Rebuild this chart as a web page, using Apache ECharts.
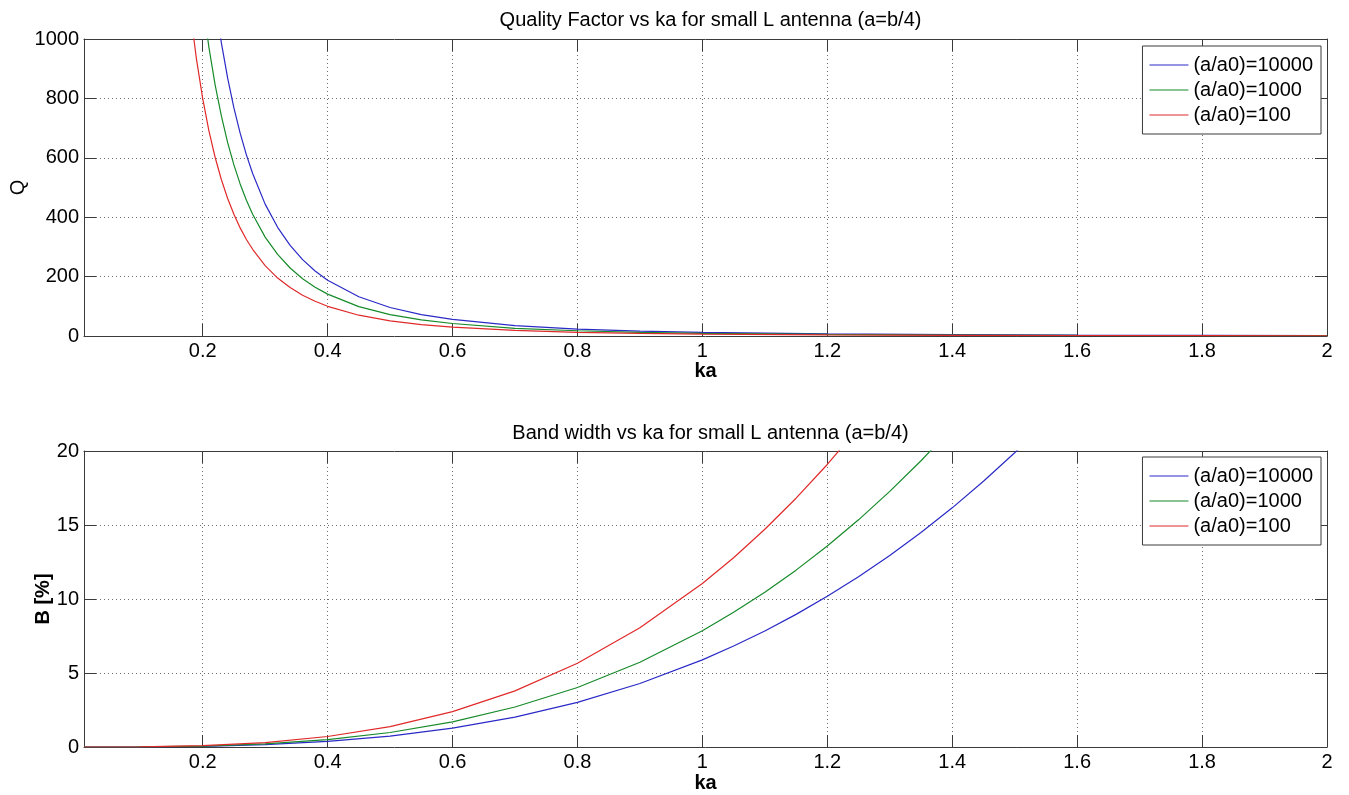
<!DOCTYPE html>
<html>
<head>
<meta charset="utf-8">
<script src="https://cdn.jsdelivr.net/npm/echarts@6/dist/echarts.min.js"></script>
<style>
html,body{margin:0;padding:0;background:#fff;}
#chart{width:1349px;height:795px;}
</style>
</head>
<body>
<div id="chart"></div>
<script>
// ---- data ----
const seriesNames = ['(a/a0)=10000', '(a/a0)=1000', '(a/a0)=100'];

// Top panel: Quality factor Q vs ka
const kaTop = [0.15,0.16,0.17,0.18,0.19,0.2,0.21,0.22,0.23,0.24,0.25,0.26,0.27,0.28,0.3,0.32,0.34,0.36,0.38,0.4,0.45,0.5,0.55,0.6,0.7,0.8,0.9,1.0,1.2,1.4,1.6,1.8,2.0];
const qBlue  = [3556,2930,2442,2058,1750,1500,1296,1127,986,868,768,683,610,547,444,366,305,257,219,188,132,96,72,56,35,23.4,16.5,12,6.9,4.4,2.9,2.1,1.5];
const qGreen = [2667,2197,1832,1543,1312,1125,972,845,740,651,576,512,457,410,333,275,229,193,164,141,99,72,54,42,26,17.6,12.3,9,5.2,3.3,2.2,1.5,1.1];
const qRed   = [1896,1563,1303,1097,933,800,691,601,526,463,410,364,325,292,237,195,163,137,117,100,70,51,38,30,18.7,12.5,8.8,6.4,3.7,2.3,1.6,1.1,0.8];

// Bottom panel: bandwidth B [%] vs ka
const kaBottom = [0.01,0.1,0.2,0.3,0.4,0.5,0.6,0.7,0.8,0.9,1.0,1.05,1.1,1.15,1.2,1.25,1.3,1.35,1.4,1.45,1.5,1.55];
const bBlue  = [0,0.006,0.047,0.16,0.38,0.74,1.27,2.02,3.02,4.29,5.89,6.82,7.84,8.96,10.18,11.5,12.94,14.49,16.16,17.96,19.88,21.93];
const bGreen = [0,0.008,0.063,0.21,0.50,0.98,1.70,2.70,4.02,5.73,7.86,9.10,10.46,11.95,13.58,15.35,17.27,19.34,21.57,24.0,26.5,29.3];
const bRed   = [0,0.011,0.088,0.30,0.71,1.38,2.39,3.79,5.66,8.06,11.05,12.79,14.71,16.81,19.09,21.58,24.3,27.2,30.3,33.7,37.3,41.2];

// ticks
const xTicks = [0.2,0.4,0.6,0.8,1.0,1.2,1.4,1.6,1.8,2.0];
const xTickLabels = ['0.2','0.4','0.6','0.8','1','1.2','1.4','1.6','1.8','2'];

const colors = ['#2a2ac6', '#178a2a', '#e02a2a'];
const FONT = "'Liberation Sans', Arial, sans-serif";

function zip(xs, ys){ return xs.map((x,i)=>[x, ys[i]]); }

const axisLineStyle = {color:'#3a3a3a', width:1};
const gridLine = {show:true, lineStyle:{color:'#707070', type:[1,3], width:1}};

function xBottom(gi){
  return {
    type:'value', gridIndex:gi, position:'bottom', min:0.01, max:2,
    name:'ka', nameLocation:'middle', nameGap: gi===0 ? 25 : 26, nameMoveOverlap:false,
    nameTextStyle:{fontFamily:FONT, fontSize:20, fontWeight:'bold', color:'#000'},
    axisLine:{show:true, onZero:false, lineStyle:axisLineStyle},
    axisTick:{show:true, inside:true, length:12, lineStyle:axisLineStyle, customValues:xTicks},
    axisLabel:{show:true, customValues:xTicks, margin:5, fontFamily:FONT, fontSize:20, color:'#000',
      formatter:(v)=>{const i=xTicks.findIndex(t=>Math.abs(t-v)<1e-9); return i>=0?xTickLabels[i]:'';}},
    splitLine:gridLine
  };
}
function xTop(gi){
  return {
    type:'value', gridIndex:gi, position:'top', min:0.01, max:2,
    axisLine:{show:true, onZero:false, lineStyle:axisLineStyle},
    axisTick:{show:true, inside:true, length:12, lineStyle:axisLineStyle, customValues:xTicks},
    axisLabel:{show:false, customValues:xTicks},
    splitLine:{show:false}
  };
}
function yLeft(gi, max, interval, name, gap){
  return {
    type:'value', gridIndex:gi, position:'left', min:0, max:max, interval:interval,
    name:name, nameLocation:'middle', nameGap:gap, nameMoveOverlap:false,
    nameTextStyle:{fontFamily:FONT, fontSize:20, fontWeight: gi===0 ? 'normal' : 'bold', color:'#000'},
    axisLine:{show:true, onZero:false, lineStyle:axisLineStyle},
    axisTick:{show:true, inside:true, length:12, lineStyle:axisLineStyle},
    axisLabel:{show:true, margin:5, fontFamily:FONT, fontSize:20, color:'#000', formatter:(v)=>String(v)},
    splitLine:gridLine
  };
}
function yRight(gi, max, interval){
  return {
    type:'value', gridIndex:gi, position:'right', min:0, max:max, interval:interval,
    axisLine:{show:true, onZero:false, lineStyle:axisLineStyle},
    axisTick:{show:true, inside:true, length:12, lineStyle:axisLineStyle},
    axisLabel:{show:false},
    splitLine:{show:false}
  };
}

function lineSeries(name, data, xi, yi, color){
  return {
    name:name, type:'line', xAxisIndex:xi, yAxisIndex:yi, data:data,
    showSymbol:false, symbol:'none', clip:true,
    lineStyle:{color:color, width:1.2}, itemStyle:{color:color},
    emphasis:{disabled:true}, z:3
  };
}

function legend(top){
  return {
    orient:'vertical', right:28, top:top,
    data:seriesNames,
    icon:'path://M0,0H40V1H0Z',
    itemWidth:39, itemHeight:1.5, itemGap:5,
    padding:[9,8,9,7],
    backgroundColor:'#fff', borderColor:'#3a3a3a', borderWidth:1,
    textStyle:{fontFamily:FONT, fontSize:20, color:'#000', lineHeight:20, height:20},
    selectedMode:false
  };
}

const chart = echarts.init(document.getElementById('chart'), null, {renderer:'canvas'});
chart.setOption({
  animation:false,
  backgroundColor:'#fff',
  title:[
    {text:'Quality Factor vs ka for small L antenna (a=b/4)', left:705.5, top:5, textAlign:'center',
     textStyle:{fontFamily:FONT, fontSize:20, fontWeight:'normal', color:'#000'}},
    {text:'Band width vs ka for small L antenna (a=b/4)', left:705.5, top:418, textAlign:'center',
     textStyle:{fontFamily:FONT, fontSize:20, fontWeight:'normal', color:'#000'}}
  ],
  legend:[legend(46), legend(457)],
  grid:[
    {left:84, right:22, top:39, height:297, containLabel:false, outerBoundsMode:'none'},
    {left:84, right:22, top:451, height:296, containLabel:false, outerBoundsMode:'none'}
  ],
  xAxis:[xBottom(0), xTop(0), xBottom(1), xTop(1)],
  yAxis:[yLeft(0, 1000, 200, 'Q', 56), yRight(0, 1000, 200), yLeft(1, 20, 5, 'B [%]', 31), yRight(1, 20, 5)],
  series:[
    lineSeries(seriesNames[0], zip(kaTop, qBlue), 0, 0, colors[0]),
    lineSeries(seriesNames[1], zip(kaTop, qGreen), 0, 0, colors[1]),
    lineSeries(seriesNames[2], zip(kaTop, qRed), 0, 0, colors[2]),
    lineSeries(seriesNames[0], zip(kaBottom, bBlue), 2, 2, colors[0]),
    lineSeries(seriesNames[1], zip(kaBottom, bGreen), 2, 2, colors[1]),
    lineSeries(seriesNames[2], zip(kaBottom, bRed), 2, 2, colors[2])
  ]
});
</script>
</body>
</html>
